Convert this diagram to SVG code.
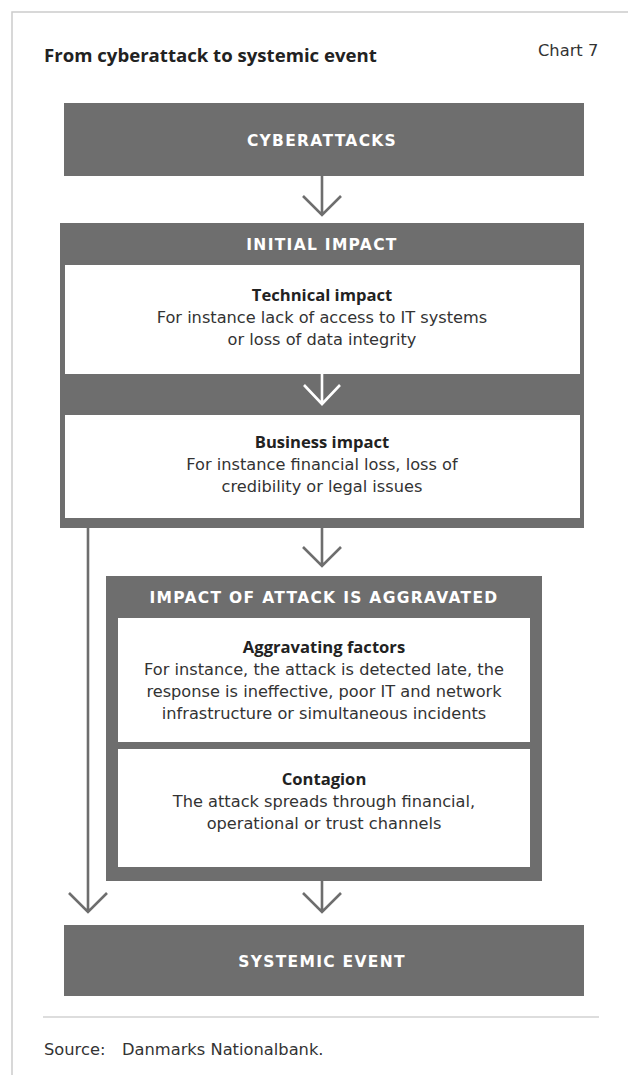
<svg xmlns="http://www.w3.org/2000/svg" width="628" height="1075" viewBox="0 0 628 1075">
  <defs>
    <style>
      .frame { fill: none; stroke: #cccccc; stroke-width: 1.5; }
      .box { fill: #6e6e6e; }
      .inner { fill: #ffffff; }
      .head { font-family: "DejaVu Sans", sans-serif; font-weight: bold; font-size: 15.5px; letter-spacing: 1.3px; fill: #ffffff; text-anchor: middle; }
      .sub { font-family: "Open Sans", sans-serif; font-weight: bold; font-size: 16.6px; fill: #222222; text-anchor: middle; }
      .body { font-family: "DejaVu Sans", sans-serif; font-size: 16.2px; fill: #333333; text-anchor: middle; }
      .conn { fill: none; stroke: #6e6e6e; stroke-width: 2.6; }
      .conn-w { fill: none; stroke: #ffffff; stroke-width: 2.6; }
      .title { font-family: "Open Sans", sans-serif; font-weight: bold; font-size: 18.6px; fill: #222222; }
      .note { font-family: "DejaVu Sans", sans-serif; font-size: 16.3px; fill: #333333; }
    </style>
  </defs>

  <rect width="628" height="1075" fill="#ffffff"/>

  <!-- outer frame: top and left rules -->
  <path class="frame" d="M628 12 H12 V1075"/>

  <text class="title" x="44" y="62">From cyberattack to systemic event</text>
  <text class="note" x="538" y="56">Chart 7</text>

  <g id="cyberattacks">
    <rect class="box" x="64" y="103" width="520" height="73"/>
    <text class="head" x="322" y="146">CYBERATTACKS</text>
  </g>

  <g id="initial-impact">
    <rect class="box" x="60" y="223" width="524" height="305"/>
    <text class="head" x="322" y="250">INITIAL IMPACT</text>
    <g id="technical-impact">
      <rect class="inner" x="65" y="265" width="515" height="109"/>
      <text class="sub" x="322" y="301">Technical impact</text>
      <text class="body" x="322" y="323">For instance lack of access to IT systems</text>
      <text class="body" x="322" y="345">or loss of data integrity</text>
    </g>
    <g id="business-impact">
      <rect class="inner" x="65" y="415" width="515" height="103"/>
      <text class="sub" x="322" y="448">Business impact</text>
      <text class="body" x="322" y="470">For instance financial loss, loss of</text>
      <text class="body" x="322" y="492">credibility or legal issues</text>
    </g>
  </g>

  <g id="impact-aggravated">
    <rect class="box" x="106" y="576" width="436" height="305"/>
    <text class="head" x="324" y="603">IMPACT OF ATTACK IS AGGRAVATED</text>
    <g id="aggravating-factors">
      <rect class="inner" x="118" y="618" width="412" height="124"/>
      <text class="sub" x="324" y="653">Aggravating factors</text>
      <text class="body" x="324" y="675">For instance, the attack is detected late, the</text>
      <text class="body" x="324" y="697">response is ineffective, poor IT and network</text>
      <text class="body" x="324" y="719">infrastructure or simultaneous incidents</text>
    </g>
    <g id="contagion">
      <rect class="inner" x="118" y="749" width="412" height="118"/>
      <text class="sub" x="324" y="785">Contagion</text>
      <text class="body" x="324" y="807">The attack spreads through financial,</text>
      <text class="body" x="324" y="829">operational or trust channels</text>
    </g>
  </g>

  <g id="systemic-event">
    <rect class="box" x="64" y="925" width="520" height="71"/>
    <text class="head" x="322" y="967">SYSTEMIC EVENT</text>
  </g>

  <!-- connectors, drawn over the boxes so the white arrow shows on the grey band -->
  <g id="connectors">
    <path class="conn" d="M322 176 V214 M303 196 L322 215 L341 196"/>
    <path class="conn-w" d="M322 374 V403 M304 385 L322 404 L340 385"/>
    <path class="conn" d="M322 528 V566 M303 547 L322 566 L341 547"/>
    <path class="conn" d="M322 881 V912 M303 893 L322 912 L341 893"/>
    <path class="conn" d="M88 528 V912 M69 893 L88 912 L107 893"/>
  </g>

  <!-- footer -->
  <line x1="43" y1="1017" x2="599" y2="1017" stroke="#bbbbbb" stroke-width="1.2"/>
  <text class="note" x="44" y="1055">Source:</text>
  <text class="note" x="122" y="1055">Danmarks Nationalbank.</text>
</svg>
